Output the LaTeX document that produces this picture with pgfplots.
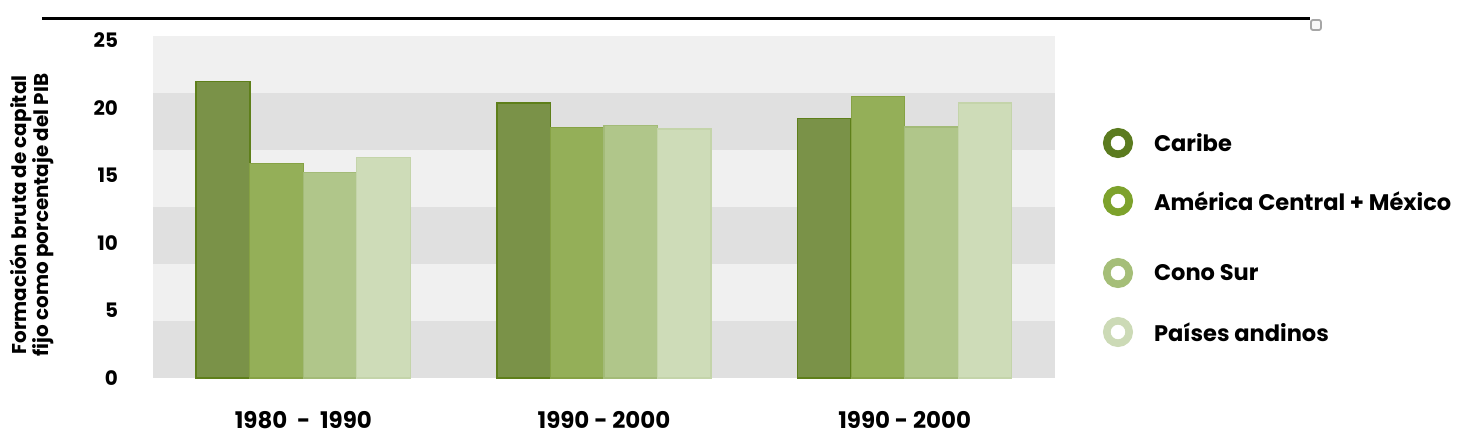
\documentclass[border=0pt]{standalone}
\usepackage{pgfplots}
\pgfplotsset{compat=1.18}
\usepackage{fontspec}
\setmainfont{Poppins}
\definecolor{cA}{HTML}{7A9248}
\definecolor{cAd}{HTML}{5E7F1A}
\definecolor{cB}{HTML}{94AF58}
\definecolor{cBd}{HTML}{86A244}
\definecolor{cC}{HTML}{B0C68A}
\definecolor{cCd}{HTML}{A3BB78}
\definecolor{cD}{HTML}{CEDCB8}
\definecolor{cDd}{HTML}{C4D4AA}
\definecolor{lA}{HTML}{5B7B1F}
\definecolor{lB}{HTML}{7DA22C}
\definecolor{lC}{HTML}{A5BE78}
\definecolor{lD}{HTML}{CCDAB6}
\definecolor{bandL}{HTML}{F0F0F0}
\definecolor{bandD}{HTML}{E0E0E0}
\begin{document}
\begin{tikzpicture}[font=\bfseries]
\useasboundingbox (0,0) rectangle (741bp,-223bp);
\begin{axis}[
  at={(76.5bp,-189bp)}, anchor=south west,
  scale only axis, width=451bp, height=171bp,
  xmin=-0.5, xmax=2.5, ymin=0, ymax=25.33,
  axis line style={draw=none}, major tick length=0pt,
  xtick={0,1,2},
  xticklabels={1980~~-~~1990, 1990 - 2000, 1990 - 2000},
  ytick={0,5,10,15,20,25},
  /pgf/number format/assume math mode=true,
  yticklabel style={font=\fontsize{10}{12}\selectfont\bfseries, anchor=east, xshift=-14bp},
  xticklabel style={font=\fontsize{11.5}{13}\selectfont\bfseries, anchor=base, yshift=-25bp},
  clip=false,
]
\fill[bandD] (axis cs:-0.5,0) rectangle (axis cs:2.5,4.22);
\fill[bandL] (axis cs:-0.5,4.22) rectangle (axis cs:2.5,8.44);
\fill[bandD] (axis cs:-0.5,8.44) rectangle (axis cs:2.5,12.67);
\fill[bandL] (axis cs:-0.5,12.67) rectangle (axis cs:2.5,16.89);
\fill[bandD] (axis cs:-0.5,16.89) rectangle (axis cs:2.5,21.11);
\fill[bandL] (axis cs:-0.5,21.11) rectangle (axis cs:2.5,25.33);
\addplot[ybar, bar width=0.178, bar shift=-0.267, fill=cA, draw=cAd, line width=0.8bp] coordinates {(0,21.95) (1,20.35) (2,19.21)};
\addplot[ybar, bar width=0.178, bar shift=-0.089, fill=cB, draw=cBd, line width=0.6bp] coordinates {(0,15.87) (1,18.57) (2,20.87)};
\addplot[ybar, bar width=0.178, bar shift=0.089, fill=cC, draw=cCd, line width=0.6bp] coordinates {(0,15.24) (1,18.72) (2,18.59)};
\addplot[ybar, bar width=0.178, bar shift=0.267, fill=cD, draw=cDd, line width=0.6bp] coordinates {(0,16.35) (1,18.44) (2,20.37)};
\end{axis}
\begin{scope}[x=0.5bp,y=-0.5bp]
\draw[line width=1.2bp] (42,18.5) -- (1310,18.5);
\draw[gray!70, fill=gray!6, rounded corners=1bp, line width=0.9bp] (1311,20) rectangle (1321,30);
\node[rotate=90, align=center, font=\fontsize{10}{11}\selectfont\bfseries] at (32,215) {Formación bruta de capital\\fijo como porcentaje del PIB};
\draw[lA, line width=3.8bp] (1118,143) circle[radius=5.6bp];
\draw[lB, line width=3.8bp] (1118,201) circle[radius=5.6bp];
\draw[lC, line width=3.8bp] (1118,273) circle[radius=5.6bp];
\draw[lD, line width=3.8bp] (1118,332) circle[radius=5.6bp];
\begin{scope}[every node/.style={anchor=west, font=\fontsize{11.3}{13}\selectfont\bfseries}]
\node at (1147,143) {Caribe};
\node at (1147,201) {América Central + México};
\node at (1147,273) {Cono Sur};
\node at (1147,332) {Países andinos};
\end{scope}
\end{scope}
\end{tikzpicture}
\end{document}
